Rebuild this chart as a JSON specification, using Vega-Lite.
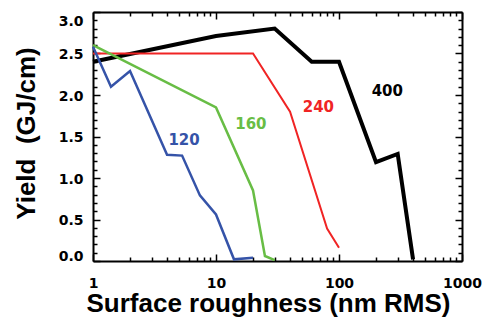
{
  "$schema": "https://vega.github.io/schema/vega-lite/v6.json",
  "width": 369,
  "height": 249,
  "autosize": {"type": "none"},
  "padding": {"left": 93, "top": 12, "right": 30, "bottom": 61},
  "background": "white",
  "config": {
    "view": {"stroke": null},
    "axis": {
      "grid": false,
      "domainColor": "black",
      "domainWidth": 2,
      "tickColor": "black",
      "tickWidth": 1.5,
      "labelFont": "DejaVu Sans",
      "labelFontWeight": "bold",
      "labelFontSize": 14,
      "labelColor": "black",
      "labelOverlap": false,
      "labelFlush": false,
      "titleFont": "Liberation Sans",
      "titleFontWeight": "bold",
      "titleFontSize": 26,
      "titleColor": "black"
    }
  },
  "datasets": {
    "curves": [
      {"series": "400", "roughness": 1, "yield": 2.40},
      {"series": "400", "roughness": 10, "yield": 2.71},
      {"series": "400", "roughness": 30, "yield": 2.80},
      {"series": "400", "roughness": 60, "yield": 2.40},
      {"series": "400", "roughness": 100, "yield": 2.40},
      {"series": "400", "roughness": 200, "yield": 1.19},
      {"series": "400", "roughness": 300, "yield": 1.29},
      {"series": "400", "roughness": 400, "yield": 0.02},
      {"series": "240", "roughness": 1, "yield": 2.50},
      {"series": "240", "roughness": 20, "yield": 2.50},
      {"series": "240", "roughness": 40, "yield": 1.80},
      {"series": "240", "roughness": 80, "yield": 0.39},
      {"series": "240", "roughness": 100, "yield": 0.16},
      {"series": "160", "roughness": 1, "yield": 2.60},
      {"series": "160", "roughness": 10, "yield": 1.85},
      {"series": "160", "roughness": 20, "yield": 0.85},
      {"series": "160", "roughness": 25, "yield": 0.06},
      {"series": "160", "roughness": 30, "yield": 0.01},
      {"series": "120", "roughness": 1, "yield": 2.58},
      {"series": "120", "roughness": 1.4, "yield": 2.10},
      {"series": "120", "roughness": 2, "yield": 2.29},
      {"series": "120", "roughness": 4, "yield": 1.28},
      {"series": "120", "roughness": 5.3, "yield": 1.27},
      {"series": "120", "roughness": 7.4, "yield": 0.79},
      {"series": "120", "roughness": 10, "yield": 0.56},
      {"series": "120", "roughness": 14, "yield": 0.02},
      {"series": "120", "roughness": 20, "yield": 0.04}
    ],
    "labels": [
      {"series": "120", "roughness": 5.5, "yield": 1.46},
      {"series": "160", "roughness": 19.2, "yield": 1.65},
      {"series": "240", "roughness": 68, "yield": 1.855},
      {"series": "400", "roughness": 247, "yield": 2.05}
    ]
  },
  "layer": [
    {
      "data": {"name": "curves"},
      "mark": {"type": "line", "strokeCap": "butt", "strokeJoin": "miter"},
      "encoding": {
        "x": {
          "field": "roughness", "type": "quantitative",
          "scale": {"type": "log", "domain": [1, 1000], "nice": false},
          "axis": {
            "orient": "bottom",
            "values": [1,2,3,4,5,6,7,8,9,10,20,30,40,50,60,70,80,90,100,200,300,400,500,600,700,800,900,1000],
            "labelExpr": "datum.value == 1 || datum.value == 10 || datum.value == 100 || datum.value == 1000 ? format(datum.value, 'd') : ''",
            "tickSize": {"condition": {"test": "datum.value == 1 || datum.value == 10 || datum.value == 100 || datum.value == 1000", "value": -7}, "value": -4},
            "labelPadding": 22,
            "title": "Surface roughness (nm RMS)",
            "titleX": 175,
            "titleY": 50,
            "titleBaseline": "alphabetic",
            "titleAlign": "center"
          }
        },
        "y": {
          "field": "yield", "type": "quantitative",
          "scale": {"domain": [0, 3], "nice": false, "zero": false},
          "axis": {
            "orient": "left",
            "values": [0,0.1,0.2,0.3,0.4,0.5,0.6,0.7,0.8,0.9,1,1.1,1.2,1.3,1.4,1.5,1.6,1.7,1.8,1.9,2,2.1,2.2,2.3,2.4,2.5,2.6,2.7,2.8,2.9,3],
            "labelExpr": "abs(datum.value*2 - round(datum.value*2)) < 0.001 ? format(datum.value, '.1f') : ''",
            "tickSize": {"condition": {"test": "abs(datum.value*2 - round(datum.value*2)) < 0.001", "value": -7}, "value": -4},
            "labelPadding": 17,
            "labelBaseline": "middle",
            "labelOffset": {"condition": [{"test": "datum.value > 2.95", "value": 9}, {"test": "datum.value < 0.05", "value": -5}], "value": 1},
            "title": "Yield\u00a0 (GJ/cm)",
            "titleX": -59,
            "titleY": 121,
            "titleBaseline": "alphabetic",
            "titleAlign": "center"
          }
        },
        "color": {
          "field": "series", "type": "nominal",
          "scale": {"domain": ["400", "240", "160", "120"], "range": ["#000000", "#f02424", "#68bd45", "#3553a8"]},
          "legend": null
        },
        "strokeWidth": {
          "condition": [
            {"test": "datum.series == '400'", "value": 4},
            {"test": "datum.series == '240'", "value": 2}
          ],
          "value": 2.5
        }
      }
    },
    {
      "data": {"name": "labels"},
      "mark": {"type": "text", "font": "DejaVu Sans", "fontWeight": "bold", "fontSize": 15, "align": "center", "baseline": "middle"},
      "encoding": {
        "x": {
          "field": "roughness", "type": "quantitative",
          "scale": {"type": "log", "domain": [1, 1000], "nice": false},
          "axis": {
            "orient": "top",
            "values": [1,2,3,4,5,6,7,8,9,10,20,30,40,50,60,70,80,90,100,200,300,400,500,600,700,800,900,1000],
            "labels": false,
            "title": null,
            "tickSize": {"condition": {"test": "datum.value == 1 || datum.value == 10 || datum.value == 100 || datum.value == 1000", "value": -7}, "value": -4}
          }
        },
        "y": {
          "field": "yield", "type": "quantitative",
          "scale": {"domain": [0, 3], "nice": false, "zero": false},
          "axis": {
            "orient": "right",
            "values": [0,0.1,0.2,0.3,0.4,0.5,0.6,0.7,0.8,0.9,1,1.1,1.2,1.3,1.4,1.5,1.6,1.7,1.8,1.9,2,2.1,2.2,2.3,2.4,2.5,2.6,2.7,2.8,2.9,3],
            "labels": false,
            "title": null,
            "tickSize": {"condition": {"test": "abs(datum.value*2 - round(datum.value*2)) < 0.001", "value": -7}, "value": -4}
          }
        },
        "text": {"field": "series", "type": "nominal"},
        "color": {"field": "series", "type": "nominal", "legend": null}
      }
    }
  ],
  "resolve": {"scale": {"x": "independent", "y": "independent"}}
}
